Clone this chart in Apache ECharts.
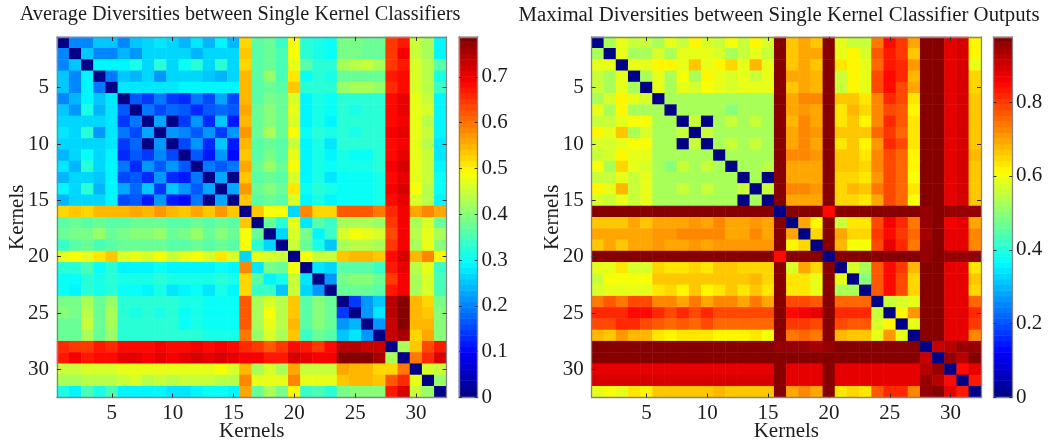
<!DOCTYPE html>
<html><head><meta charset="utf-8">
<style>html,body{margin:0;padding:0;background:#fff}#c{width:1064px;height:443px}</style>
<script src="https://cdn.jsdelivr.net/npm/echarts@6/dist/echarts.min.js"></script>
</head><body><div id="c"></div>
<script>
const kernels = Array.from({length:32},(_,i)=>String(i+1));
const titleLeft = 'Average Diversities between Single Kernel Classifiers';
const titleRight = 'Maximal Diversities between Single Kernel Classifier Outputs';
const axisName = 'Kernels';
const kernelTicks = [5,10,15,20,25,30];
const barTicksLeft = [0,0.1,0.2,0.3,0.4,0.5,0.6,0.7];
const barTicksRight = [0,0.2,0.4,0.6,0.8];
const maxLeft = 0.787, maxRight = 0.976;

const avgDiversity = [
[0,.20,.20,.25,.25,.20,.25,.26,.28,.26,.24,.28,.24,.29,.24,.525,.36,.37,.34,.49,.33,.31,.30,.39,.39,.38,.37,.65,.67,.45,.43,.29],
[.20,0,.25,.20,.20,.24,.21,.27,.27,.27,.27,.24,.26,.27,.26,.54,.36,.38,.35,.49,.33,.31,.30,.39,.39,.38,.38,.65,.69,.45,.42,.29],
[.20,.25,0,.29,.29,.29,.31,.27,.32,.27,.30,.32,.27,.33,.27,.525,.36,.38,.35,.47,.36,.33,.32,.43,.44,.45,.43,.65,.67,.46,.44,.36],
[.25,.20,.29,0,.19,.25,.24,.26,.21,.27,.26,.26,.25,.24,.26,.545,.36,.41,.35,.51,.30,.32,.31,.38,.38,.38,.37,.67,.68,.46,.44,.31],
[.25,.20,.29,.19,0,.28,.28,.28,.28,.28,.29,.29,.29,.29,.29,.545,.36,.38,.36,.53,.33,.33,.32,.41,.42,.42,.41,.66,.68,.46,.44,.34],
[.20,.24,.29,.25,.28,0,.16,.14,.19,.14,.13,.19,.15,.23,.15,.545,.36,.39,.37,.46,.29,.31,.30,.33,.33,.33,.33,.68,.71,.47,.45,.29],
[.25,.21,.31,.24,.28,.16,0,.19,.15,.18,.16,.13,.16,.18,.16,.56,.37,.40,.38,.47,.29,.31,.30,.32,.31,.32,.33,.68,.71,.47,.46,.29],
[.26,.27,.27,.26,.28,.14,.19,0,.23,0,.14,.22,.13,.25,.12,.545,.37,.40,.37,.46,.29,.31,.29,.33,.32,.33,.33,.68,.70,.47,.44,.29],
[.28,.27,.32,.21,.28,.19,.15,.23,0,.22,.20,.17,.21,.14,.21,.575,.37,.42,.38,.49,.30,.32,.31,.32,.31,.32,.33,.69,.71,.47,.45,.29],
[.26,.27,.27,.26,.28,.14,.18,0,.22,0,.15,.22,.13,.25,.12,.545,.36,.38,.36,.45,.29,.31,.28,.33,.33,.33,.32,.68,.70,.47,.44,.28],
[.24,.27,.30,.26,.29,.13,.16,.14,.20,.15,0,.17,.12,.22,.11,.54,.36,.39,.36,.47,.29,.31,.29,.31,.30,.30,.32,.68,.71,.47,.45,.28],
[.28,.24,.32,.26,.29,.19,.13,.22,.17,.22,.17,0,.19,.17,.19,.555,.37,.41,.38,.49,.29,.31,.30,.31,.31,.31,.32,.69,.72,.47,.45,.29],
[.24,.26,.27,.25,.29,.15,.16,.13,.21,.13,.12,.19,0,.23,0,.54,.36,.38,.36,.46,.29,.31,.28,.30,.30,.30,.31,.68,.71,.47,.45,.30],
[.29,.27,.33,.24,.29,.23,.18,.25,.14,.25,.22,.17,.23,0,.23,.57,.37,.40,.37,.51,.30,.32,.31,.30,.30,.30,.31,.69,.72,.48,.44,.30],
[.24,.26,.27,.26,.29,.15,.16,.12,.21,.12,.11,.19,0,.23,0,.54,.36,.38,.36,.46,.29,.31,.29,.30,.30,.30,.31,.68,.71,.46,.44,.29],
[.525,.54,.525,.545,.545,.545,.56,.545,.575,.545,.54,.555,.54,.57,.54,0,.54,.49,.49,.27,.58,.52,.52,.62,.62,.62,.60,.66,.70,.56,.59,.56],
[.36,.37,.36,.37,.36,.36,.37,.37,.37,.36,.36,.37,.36,.37,.36,.54,0,.38,.32,.47,.28,.36,.34,.42,.42,.42,.41,.64,.69,.42,.46,.37],
[.37,.39,.39,.41,.38,.39,.40,.40,.41,.38,.39,.41,.38,.40,.38,.49,.38,0,.26,.46,.39,.29,.34,.46,.49,.47,.46,.63,.69,.44,.47,.42],
[.34,.36,.37,.35,.36,.37,.38,.37,.38,.36,.36,.38,.36,.37,.36,.49,.32,.26,0,.45,.37,.31,.25,.43,.44,.44,.43,.65,.69,.42,.47,.40],
[.47,.49,.47,.51,.53,.46,.47,.46,.49,.45,.47,.49,.46,.51,.46,.27,.47,.46,.45,0,.48,.45,.45,.54,.55,.55,.53,.68,.72,.55,.58,.50],
[.32,.32,.35,.30,.33,.29,.29,.29,.30,.29,.29,.29,.29,.30,.29,.58,.28,.39,.37,.48,0,.28,.27,.36,.36,.36,.34,.67,.71,.44,.47,.34],
[.30,.30,.33,.31,.33,.31,.31,.31,.32,.31,.31,.31,.31,.32,.31,.52,.36,.29,.31,.45,.28,0,.22,.39,.40,.40,.38,.65,.70,.43,.46,.35],
[.30,.29,.32,.31,.32,.30,.30,.29,.31,.28,.29,.30,.28,.31,.29,.52,.34,.34,.25,.45,.27,.22,0,.38,.38,.38,.36,.67,.70,.43,.46,.35],
[.39,.39,.43,.38,.41,.33,.32,.33,.32,.33,.31,.31,.30,.30,.30,.62,.42,.46,.44,.53,.36,.40,.38,0,.14,.22,.25,.75,.78,.55,.52,.39],
[.40,.39,.44,.38,.42,.33,.31,.32,.31,.33,.30,.31,.30,.30,.30,.62,.43,.48,.44,.54,.36,.40,.38,.14,0,.22,.28,.75,.78,.55,.53,.40],
[.38,.38,.45,.38,.42,.33,.32,.33,.32,.33,.30,.31,.30,.30,.30,.62,.43,.47,.44,.55,.36,.40,.38,.21,.24,0,.21,.73,.78,.55,.55,.40],
[.38,.38,.43,.37,.41,.33,.33,.33,.33,.32,.32,.32,.31,.31,.31,.60,.41,.46,.43,.53,.34,.38,.36,.25,.28,.21,0,.73,.76,.52,.56,.40],
[.66,.65,.65,.67,.66,.68,.68,.68,.69,.68,.68,.69,.68,.69,.68,.66,.64,.62,.64,.68,.67,.65,.68,.74,.74,.73,.73,0,.42,.54,.63,.67],
[.67,.69,.67,.68,.68,.71,.71,.70,.71,.70,.71,.72,.71,.72,.71,.69,.69,.67,.67,.72,.71,.69,.69,.78,.78,.78,.76,.42,0,.60,.66,.72],
[.45,.45,.46,.46,.46,.47,.47,.47,.47,.47,.47,.47,.47,.48,.46,.55,.43,.46,.43,.56,.45,.45,.45,.56,.55,.55,.52,.52,.60,0,.46,.45],
[.43,.42,.44,.44,.44,.45,.46,.44,.45,.44,.45,.45,.45,.44,.44,.59,.47,.47,.47,.58,.47,.47,.47,.53,.55,.55,.53,.62,.66,.47,0,.41],
[.31,.29,.35,.31,.35,.29,.29,.29,.29,.28,.28,.29,.30,.30,.29,.56,.38,.42,.39,.50,.34,.35,.33,.39,.40,.40,.40,.67,.72,.45,.41,0]
];

const maxDiversity = [
[0,.53,.58,.56,.56,.53,.59,.55,.62,.57,.55,.60,.55,.62,.57,.976,.67,.70,.67,.976,.59,.56,.56,.74,.84,.80,.69,.976,.976,.87,.89,.62],
[.53,0,.58,.53,.53,.57,.53,.58,.59,.58,.57,.53,.55,.59,.55,.976,.67,.70,.69,.976,.59,.61,.57,.77,.83,.80,.67,.976,.976,.87,.89,.61],
[.58,.58,0,.59,.59,.62,.62,.58,.66,.59,.61,.65,.59,.68,.59,.976,.67,.70,.66,.976,.64,.61,.58,.75,.83,.81,.71,.976,.976,.87,.89,.59],
[.56,.53,.59,0,.52,.59,.53,.60,.53,.61,.58,.57,.58,.55,.58,.976,.69,.70,.68,.976,.56,.61,.58,.79,.85,.81,.68,.976,.976,.87,.89,.65],
[.56,.53,.59,.53,0,.58,.53,.58,.57,.60,.59,.57,.58,.58,.58,.976,.67,.70,.68,.976,.56,.61,.58,.79,.85,.79,.70,.976,.976,.87,.89,.65],
[.53,.57,.62,.58,.57,0,.52,.52,.52,.52,.52,.52,.52,.52,.52,.976,.69,.72,.72,.976,.66,.66,.64,.73,.81,.78,.64,.976,.976,.87,.89,.66],
[.59,.53,.62,.53,.53,.52,0,.52,.52,.52,.52,.50,.52,.52,.52,.976,.69,.71,.69,.976,.64,.68,.65,.73,.79,.77,.61,.976,.976,.87,.89,.66],
[.55,.55,.58,.60,.60,.52,.52,0,.56,0,.52,.56,.52,.56,.52,.976,.68,.73,.69,.976,.64,.66,.62,.72,.81,.77,.63,.976,.976,.87,.89,.66],
[.62,.58,.66,.53,.57,.52,.52,.56,0,.56,.52,.52,.52,.52,.52,.976,.70,.73,.71,.976,.66,.67,.66,.75,.80,.76,.63,.976,.976,.87,.89,.66],
[.57,.57,.59,.60,.60,.52,.52,0,.56,0,.52,.56,.52,.56,.52,.976,.69,.72,.69,.976,.64,.66,.62,.71,.81,.78,.63,.976,.976,.87,.89,.66],
[.55,.57,.61,.58,.58,.52,.52,.52,.52,.52,0,.52,.52,.53,.52,.976,.72,.72,.71,.976,.67,.67,.64,.72,.78,.75,.61,.976,.976,.87,.89,.68],
[.60,.53,.65,.58,.57,.52,.50,.56,.52,.56,.52,0,.53,.53,.54,.976,.70,.70,.70,.976,.67,.67,.65,.72,.78,.75,.61,.976,.976,.87,.89,.66],
[.55,.55,.59,.56,.58,.52,.52,.52,.52,.52,.52,.53,0,.53,0,.976,.69,.70,.70,.976,.65,.65,.63,.71,.78,.75,.60,.976,.976,.87,.89,.66],
[.62,.58,.68,.55,.58,.52,.52,.56,.52,.56,.53,.53,.56,0,.56,.976,.72,.72,.71,.976,.65,.68,.67,.74,.78,.75,.63,.976,.976,.87,.89,.66],
[.57,.55,.59,.56,.58,.52,.52,.52,.52,.52,.52,.53,0,.53,0,.976,.69,.70,.70,.976,.65,.65,.63,.70,.78,.75,.60,.976,.976,.87,.89,.66],
[.976,.976,.976,.976,.976,.976,.976,.976,.976,.976,.976,.976,.976,.976,.976,0,.976,.976,.976,.85,.976,.976,.976,.976,.976,.976,.976,.96,.976,.96,.96,.96],
[.66,.66,.66,.69,.66,.69,.69,.69,.71,.69,.72,.69,.69,.71,.69,.976,0,.69,.61,.976,.56,.63,.63,.78,.86,.81,.74,.96,.976,.86,.87,.69],
[.70,.70,.70,.70,.70,.71,.71,.73,.73,.73,.73,.70,.70,.72,.70,.976,.69,0,.65,.976,.69,.65,.65,.80,.85,.80,.75,.94,.976,.87,.88,.72],
[.66,.69,.66,.69,.69,.71,.69,.69,.71,.69,.71,.71,.71,.71,.71,.976,.61,.65,0,.976,.68,.60,.60,.78,.87,.81,.74,.96,.976,.87,.88,.73],
[.976,.976,.976,.976,.976,.976,.976,.976,.976,.976,.976,.976,.976,.976,.976,.85,.976,.976,.976,0,.976,.976,.976,.976,.976,.976,.976,.95,.976,.96,.96,.96],
[.58,.58,.63,.57,.57,.65,.64,.64,.65,.64,.66,.66,.65,.65,.65,.976,.57,.69,.65,.976,0,.57,.53,.77,.85,.80,.68,.976,.976,.87,.88,.64],
[.56,.60,.60,.60,.60,.66,.67,.66,.67,.66,.67,.67,.66,.68,.65,.976,.63,.63,.58,.976,.58,0,.50,.77,.85,.78,.65,.976,.976,.87,.88,.66],
[.57,.59,.59,.59,.59,.63,.65,.62,.66,.61,.64,.66,.64,.67,.63,.976,.63,.63,.58,.976,.53,.52,0,.77,.85,.78,.65,.976,.976,.87,.88,.65],
[.74,.77,.74,.78,.78,.72,.72,.70,.74,.70,.72,.72,.70,.74,.70,.976,.78,.78,.77,.976,.76,.76,.76,0,.55,.57,.59,.976,.976,.87,.87,.76],
[.82,.82,.82,.85,.85,.81,.78,.81,.79,.82,.78,.78,.78,.78,.78,.976,.85,.86,.87,.976,.82,.82,.82,.55,0,.61,.71,.976,.976,.87,.88,.81],
[.78,.78,.81,.81,.79,.77,.75,.77,.75,.78,.75,.75,.75,.75,.75,.976,.80,.80,.78,.976,.79,.77,.77,.57,.61,0,.58,.976,.976,.87,.87,.80],
[.68,.66,.71,.68,.68,.63,.61,.63,.63,.63,.61,.61,.61,.63,.60,.976,.74,.75,.74,.976,.68,.66,.66,.59,.71,.58,0,.976,.976,.87,.87,.72],
[.976,.976,.976,.976,.976,.976,.976,.976,.976,.976,.976,.976,.976,.976,.976,.96,.95,.96,.94,.95,.976,.976,.976,.976,.976,.976,.976,0,.90,.93,.95,.95],
[.976,.976,.976,.976,.976,.976,.976,.976,.976,.976,.976,.976,.976,.976,.976,.976,.976,.976,.976,.976,.976,.976,.976,.976,.976,.976,.976,.90,0,.96,.93,.976],
[.88,.88,.88,.88,.88,.88,.88,.88,.88,.88,.88,.88,.88,.88,.88,.976,.87,.87,.87,.976,.87,.87,.87,.87,.87,.87,.87,.93,.96,0,.85,.88],
[.89,.89,.89,.89,.89,.89,.89,.89,.89,.89,.89,.89,.89,.89,.89,.976,.88,.88,.88,.976,.88,.88,.88,.88,.88,.88,.88,.95,.93,.85,0,.83],
[.58,.60,.58,.63,.62,.66,.66,.66,.66,.66,.68,.66,.66,.66,.66,.976,.69,.72,.70,.976,.64,.65,.64,.77,.82,.81,.73,.95,.976,.87,.83,0]
];

// MATLAB-style jet colormap with 64 levels
function jetColor(i){
  const t=(i+0.5)/64;
  const ch=x=>Math.round(255*Math.max(0,Math.min(1,1.5-Math.abs(4*t-x))));
  return `rgb(${ch(3)},${ch(2)},${ch(1)})`;
}
const jet = Array.from({length:64},(_,i)=>jetColor(i));
const levels = Array.from({length:64},(_,i)=>String(i));

const SERIF='"Liberation Serif","Times New Roman",serif';
const INK='#1c1c1c', FRAME='#858585', TICK='#333';
const panelL={main:57,mw:389.5,bar:459,bw:18.6}, panelR={main:591.7,mw:389.3,bar:993.5,bw:18.6};
const gridTop=37, gridH=360.5;

const grids=[], xAxes=[], yAxes=[], series=[], vms=[];
const line={show:true,onZero:false,lineStyle:{color:FRAME,width:1.3}};
const showTick=(i,v)=>kernelTicks.includes(+v);
const tickStyle={show:true,inside:true,length:4,alignWithLabel:true,interval:showTick,lineStyle:{color:TICK,width:1}};

function addPanel(g,matrix,maxV,ticks){
  const gi=grids.length;
  grids.push({left:g.main,top:gridTop,width:g.mw,height:gridH,containLabel:false,outerBoundsMode:'none'});
  grids.push({left:g.bar,top:gridTop,width:g.bw,height:gridH,containLabel:false,outerBoundsMode:'none'});
  const x0=xAxes.length, y0=yAxes.length;
  xAxes.push({type:'category',gridIndex:gi,data:kernels,position:'bottom',z:5,axisLine:line,axisTick:tickStyle,
    axisLabel:{interval:showTick,fontFamily:SERIF,fontSize:21,color:INK,margin:5},splitLine:{show:false},splitArea:{show:false},
    name:axisName,nameLocation:'middle',nameGap:23,nameMoveOverlap:false,nameTextStyle:{fontFamily:SERIF,fontSize:21,color:INK}});
  xAxes.push({type:'category',gridIndex:gi,data:kernels,position:'top',z:5,axisLine:line,axisTick:tickStyle,axisLabel:{show:false},splitLine:{show:false}});
  yAxes.push({type:'category',gridIndex:gi,data:kernels,inverse:true,position:'left',z:5,axisLine:line,axisTick:tickStyle,
    axisLabel:{interval:showTick,fontFamily:SERIF,fontSize:21,color:INK,margin:8},splitLine:{show:false},splitArea:{show:false},
    name:axisName,nameLocation:'middle',nameGap:29,nameMoveOverlap:false,nameTextStyle:{fontFamily:SERIF,fontSize:21,color:INK}});
  yAxes.push({type:'category',gridIndex:gi,data:kernels,inverse:true,position:'right',z:5,axisLine:line,axisTick:tickStyle,axisLabel:{show:false},splitLine:{show:false}});
  const data=[];
  matrix.forEach((row,r)=>row.forEach((v,c)=>data.push([c,r,v])));
  const sMain=series.length;
  series.push({type:'heatmap',xAxisIndex:x0,yAxisIndex:y0,data,progressive:0,animation:false,emphasis:{disabled:true},
    itemStyle:{borderWidth:0}});

  // colour bar
  xAxes.push({type:'category',gridIndex:gi+1,data:['bar'],position:'bottom',z:5,axisLine:line,axisTick:{show:false},axisLabel:{show:false},splitLine:{show:false}});
  xAxes.push({type:'category',gridIndex:gi+1,data:['bar'],position:'top',z:5,axisLine:line,axisTick:{show:false},axisLabel:{show:false},splitLine:{show:false}});
  yAxes.push({type:'category',gridIndex:gi+1,data:levels,position:'left',show:false});
  yAxes.push({type:'value',gridIndex:gi+1,min:0,max:maxV,position:'right',z:5,axisLine:line,splitLine:{show:false},
    axisTick:{show:true,inside:true,length:3,customValues:ticks,lineStyle:{color:TICK}},
    axisLabel:{customValues:ticks,fontFamily:SERIF,fontSize:21,color:INK,margin:4,hideOverlap:false,formatter:v=>String(v)}});
  yAxes.push({type:'value',gridIndex:gi+1,min:0,max:maxV,position:'left',z:5,axisLine:line,splitLine:{show:false},
    axisTick:{show:true,inside:true,length:3,customValues:ticks,lineStyle:{color:TICK}},axisLabel:{show:false}});
  const sBar=series.length;
  series.push({type:'heatmap',xAxisIndex:x0+2,yAxisIndex:y0+2,animation:false,emphasis:{disabled:true},
    itemStyle:{borderWidth:0},
    data:levels.map((_,i)=>[0,i,(i+0.5)/64*maxV])});

  vms.push({type:'piecewise',show:false,min:0,max:maxV,splitNumber:64,precision:6,seriesIndex:[sMain,sBar],inRange:{color:jet}});
}
addPanel(panelL,avgDiversity,maxLeft,barTicksLeft);
addPanel(panelR,maxDiversity,maxRight,barTicksRight);

const chart=echarts.init(document.getElementById('c'),null,{renderer:'canvas'});
chart.setOption({
  animation:false,backgroundColor:'#fff',
  title:[
    {text:titleLeft,left:235,top:0,textAlign:'center',textStyle:{fontFamily:SERIF,fontSize:20.3,fontWeight:'normal',color:INK}},
    {text:titleRight,left:774,top:0,textAlign:'center',textStyle:{fontFamily:SERIF,fontSize:20.8,fontWeight:'normal',color:INK}}
  ],
  tooltip:{show:false},
  grid:grids,xAxis:xAxes,yAxis:yAxes,visualMap:vms,series
});
</script></body></html>
